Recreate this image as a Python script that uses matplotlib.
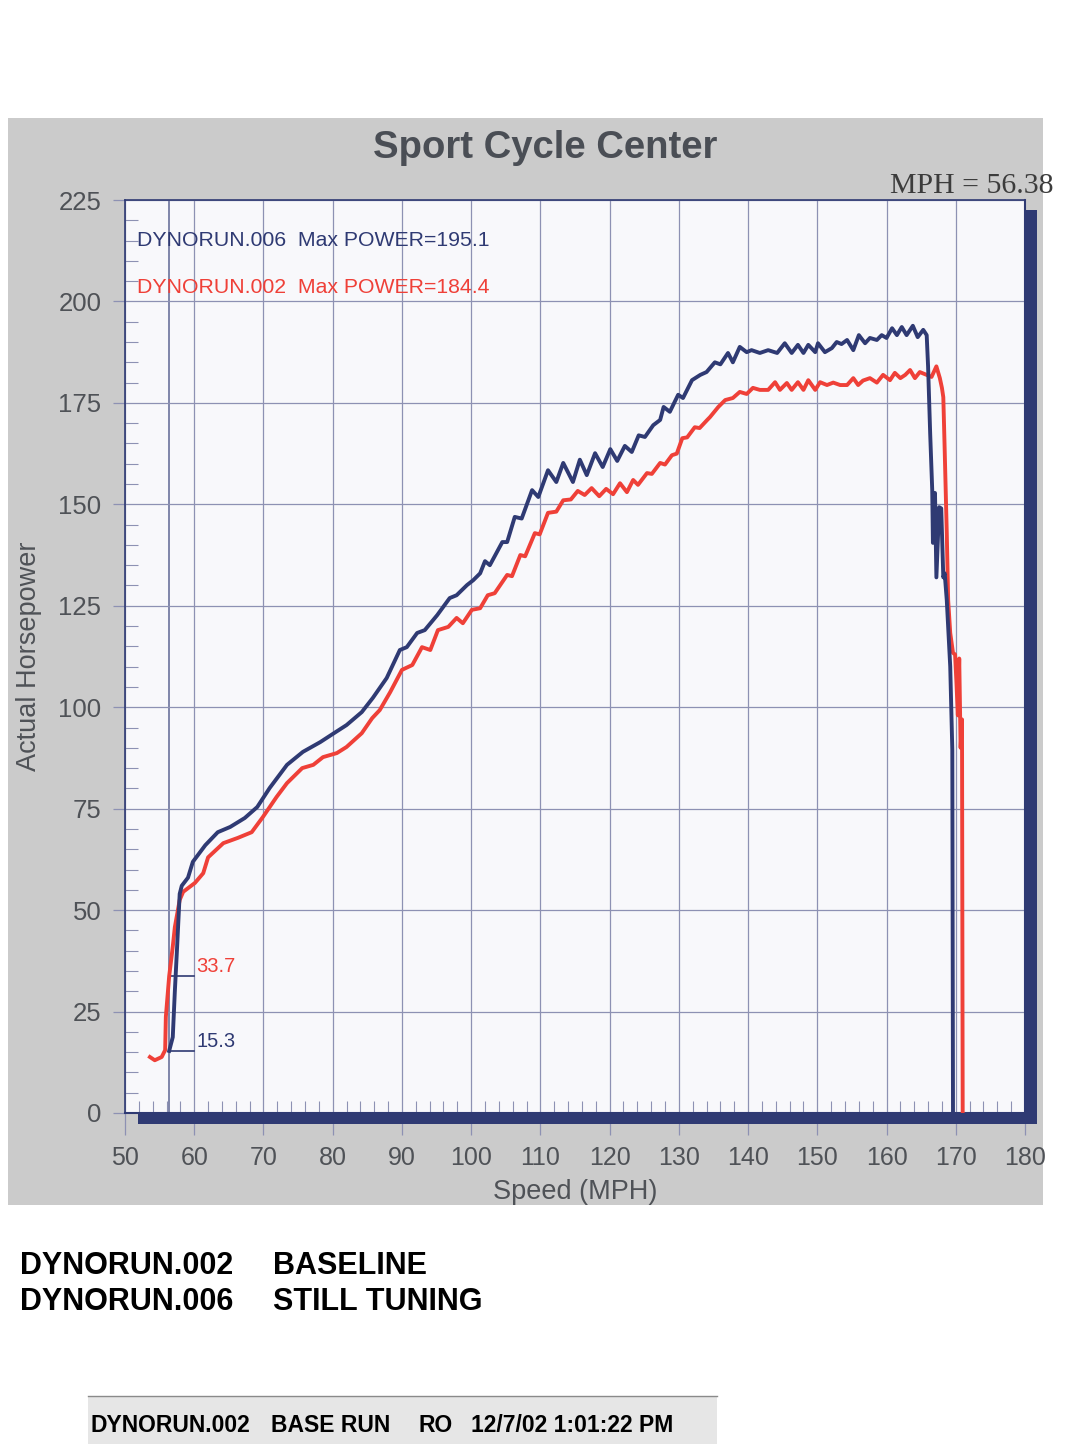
import matplotlib
matplotlib.use("Agg")
import matplotlib.pyplot as plt
from matplotlib.patches import Rectangle
from matplotlib.ticker import MultipleLocator, FixedLocator

# ---------------- data ----------------
run006_mph = [56.38, 56.9, 57.2, 57.5, 57.9, 58.2, 59.1, 59.8, 61.6, 63.4, 65.2, 67.3, 69.1, 70.9,
              73.4, 75.7, 78.2, 80.0, 82.0, 84.2, 85.8, 87.8, 89.7, 90.7, 92.2, 93.3, 95.1, 96.9,
              97.9, 99.4, 100.3, 101.3, 102.0, 102.7, 104.5, 105.2, 106.3, 107.3, 108.8, 109.7,
              111.1, 112.3, 113.3, 114.7, 115.7, 116.7, 117.9, 119.0, 120.1, 121.1, 122.2, 123.2,
              124.2, 125.1, 126.3, 127.3, 127.8, 128.7, 129.9, 130.6, 131.9, 133.1, 134.0, 135.2,
              136.0, 137.1, 137.8, 138.8, 139.8, 140.5, 141.7, 142.9, 144.2, 145.3, 146.3, 147.2,
              148.0, 148.7, 149.7, 150.1, 151.1, 152.1, 152.8, 153.5, 154.3, 155.2, 156.0, 156.9,
              157.6, 158.6, 159.3, 160.0, 160.8, 161.5, 162.2, 162.9, 163.8, 164.5, 165.3, 165.8,
              166.0, 166.3, 166.6, 166.7, 167.0, 167.2, 167.6, 167.9, 168.2, 168.4, 168.7, 169.2,
              169.5, 169.6]
run006_hp = [15.3, 18.7, 30.0, 40.0, 54.0, 56.0, 58.0, 61.9, 66.0, 69.2, 70.5, 72.7, 75.4, 80.1,
             85.8, 89.0, 91.4, 93.4, 95.6, 98.8, 102.3, 107.2, 114.1, 114.8, 118.3, 119.0, 122.7, 126.9,
             127.6, 130.1, 131.3, 133.0, 136.0, 135.0, 140.7, 140.7, 146.9, 146.5, 153.5, 151.8,
             158.4, 155.5, 160.2, 155.5, 161.0, 157.2, 162.6, 159.2, 163.6, 160.7, 164.4, 162.9,
             167.0, 166.6, 169.5, 170.8, 174.0, 172.8, 177.0, 176.2, 180.6, 181.9, 182.6, 185.0,
             184.5, 187.3, 185.0, 188.8, 187.5, 188.0, 187.3, 188.0, 187.3, 189.7, 187.3, 189.3,
             187.3, 189.3, 187.5, 189.7, 187.5, 188.5, 190.0, 189.5, 190.5, 188.0, 191.7, 189.7,
             191.0, 190.5, 191.7, 191.0, 193.4, 191.7, 193.7, 191.7, 194.0, 191.2, 193.0, 191.7,
             184.0, 167.6, 153.5, 140.5, 152.8, 132.0, 149.3, 149.0, 132.0, 133.0, 126.4, 110.0,
             89.5, 0.0]

run002_mph = [53.6, 54.3, 55.3, 55.8, 55.9, 56.38, 56.9, 57.2, 57.9, 58.4, 60.1, 61.3, 62.0, 64.2,
              66.3, 68.3, 69.9, 71.9, 73.4, 75.6, 77.2, 78.6, 80.6, 82.0, 84.2, 85.7, 86.8, 88.3,
              90.0, 91.5, 92.9, 94.1, 95.2, 96.7, 97.9, 98.8, 100.1, 101.3, 102.4, 103.4, 105.2,
              105.9, 107.1, 107.8, 109.2, 109.9, 111.1, 112.3, 113.3, 114.4, 115.4, 116.4, 117.4,
              118.5, 119.5, 120.5, 121.5, 122.5, 123.4, 124.1, 125.4, 126.1, 127.3, 128.0, 129.0,
              129.7, 130.5, 131.2, 132.3, 133.0, 134.1, 134.5, 135.7, 136.7, 137.8, 138.8, 139.8,
              140.7, 141.7, 142.9, 143.9, 144.6, 145.6, 146.3, 147.2, 148.0, 148.7, 149.7, 150.4,
              151.4, 152.3, 153.3, 154.3, 155.2, 155.9, 156.6, 157.6, 158.6, 159.5, 160.5, 161.2,
              162.0, 162.7, 163.4, 164.1, 164.8, 165.8, 166.5, 167.2, 167.7, 168.0, 168.2, 168.4,
              168.7, 168.9, 169.2, 169.6, 169.9, 170.1, 170.3, 170.5, 170.7, 170.9, 171.0]
run002_hp = [13.8, 13.0, 13.8, 15.5, 23.7, 33.7, 41.0, 45.8, 52.5, 54.5, 56.7, 59.1, 63.0, 66.5,
             67.8, 69.2, 72.9, 77.9, 81.3, 85.0, 85.8, 87.7, 88.7, 90.2, 93.6, 97.3, 99.3, 103.7,
             109.2, 110.4, 114.8, 114.1, 119.0, 119.8, 122.0, 120.7, 124.0, 124.4, 127.6, 128.1, 132.6,
             132.3, 137.5, 137.2, 142.9, 142.6, 147.9, 148.2, 151.0, 151.2, 153.3, 152.3, 154.0,
             152.0, 153.8, 152.5, 155.2, 153.0, 156.0, 154.8, 157.7, 157.5, 160.2, 159.8, 162.1,
             162.5, 166.3, 166.5, 169.0, 168.8, 170.8, 171.5, 174.0, 175.7, 176.2, 177.7, 177.2,
             178.7, 178.2, 178.2, 180.1, 178.2, 179.9, 178.2, 180.1, 178.2, 180.6, 178.2, 180.1,
             179.4, 180.0, 179.4, 179.4, 181.1, 179.4, 180.5, 181.1, 180.0, 181.9, 180.6, 182.4,
             181.1, 181.9, 183.1, 181.1, 182.6, 181.9, 181.4, 184.0, 181.1, 178.7, 176.4, 163.4,
             142.9, 126.4, 118.3, 113.4, 113.0, 106.0, 98.0, 112.0, 90.0, 97.0, 0.0]

cursor_mph = 56.38
cursor_red = 33.7
cursor_blue = 15.3
x_ticks = [50, 60, 70, 80, 90, 100, 110, 120, 130, 140, 150, 160, 170, 180]
y_ticks = [0, 25, 50, 75, 100, 125, 150, 175, 200, 225]

NAVY = '#2f3a73'
RED = '#ef4038'
GRID = '#8d91b3'
GRAYTXT = '#4f5257'

plt.rcParams['font.family'] = ['Liberation Sans', 'DejaVu Sans']

W, H = 1085, 1444
fig = plt.figure(figsize=(W / 100, H / 100), dpi=100)
fig.patch.set_facecolor('white')

def px_rect(x0, y0, x1, y1, **kw):
    r = Rectangle((x0 / W, 1 - y1 / H), (x1 - x0) / W, (y1 - y0) / H,
                  transform=fig.transFigure, **kw)
    fig.patches.append(r)
    return r

# gray halftone panel
px_rect(8, 118, 1043, 1205, facecolor='#cbcbcb', edgecolor='none', zorder=-5)

# axes
L, R, T, B = 125, 1025, 200, 1113
ax = fig.add_axes([L / W, 1 - B / H, (R - L) / W, (B - T) / H])
ax.set_facecolor('#f8f8fb')
ax.set_xlim(50, 180)
ax.set_ylim(0, 225)

ax.xaxis.set_major_locator(FixedLocator(x_ticks))
ax.yaxis.set_major_locator(FixedLocator(y_ticks))
ax.xaxis.set_minor_locator(MultipleLocator(2))
ax.yaxis.set_minor_locator(MultipleLocator(5))
ax.grid(True, which='major', color=GRID, linewidth=0.9, zorder=0)

ax.tick_params(axis='y', which='major', direction='out', length=9, width=0.9, color=GRID,
               labelsize=18.5, labelcolor=GRAYTXT, pad=8)
ax.tick_params(axis='x', which='major', direction='out', length=16, width=0.9, color=GRID,
               labelsize=18, labelcolor=GRAYTXT, pad=8)
ax.tick_params(axis='both', which='minor', direction='in', length=9, width=0.8, color=GRID)
ax.set_xticklabels([str(v) for v in x_ticks])
ax.set_yticklabels([str(v) for v in y_ticks])

for s in ['left', 'top']:
    ax.spines[s].set_color(NAVY)
    ax.spines[s].set_linewidth(1.2)
for s in ['right', 'bottom']:
    ax.spines[s].set_color(NAVY)
    ax.spines[s].set_linewidth(1.5)

ax.set_xlabel('Speed (MPH)', fontsize=19.5, color=GRAYTXT, labelpad=6)
ax.set_ylabel('Actual Horsepower', fontsize=19.5, color=GRAYTXT, labelpad=12)

# cursor line
ax.axvline(cursor_mph, color=NAVY, linewidth=1.2, alpha=0.7, zorder=1)
ax.plot([cursor_mph, 60], [cursor_red, cursor_red], color=NAVY, linewidth=1.2, zorder=2)
ax.plot([cursor_mph, 60], [cursor_blue, cursor_blue], color=NAVY, linewidth=1.2, zorder=2)
ax.text(60.3, cursor_red + 2.5, f'{cursor_red}', color=RED, fontsize=14.5, va='center', ha='left')
ax.text(60.3, cursor_blue + 2.4, f'{cursor_blue}', color=NAVY, fontsize=14.5, va='center', ha='left')

# curves
ax.plot(run002_mph, run002_hp, color=RED, linewidth=2.8, solid_joinstyle='round', zorder=3)
ax.plot(run006_mph, run006_hp, color=NAVY, linewidth=2.8, solid_joinstyle='round', zorder=4)

ax.text(51.7, 214.9, 'DYNORUN.006  Max POWER=195.1', color=NAVY, fontsize=15.3, va='center', ha='left')
ax.text(51.7, 203.5, 'DYNORUN.002  Max POWER=184.4', color=RED, fontsize=15.3, va='center', ha='left')

# shadow bars
px_rect(138, 1113, 1037, 1124, facecolor=NAVY, edgecolor='none', zorder=5)
px_rect(1025, 210, 1037, 1124, facecolor=NAVY, edgecolor='none', zorder=5)

# title texts
fig.text(545 / W, 1 - 148 / H, 'Sport Cycle Center', fontsize=27.5, fontweight='bold',
         color='#4a4e55', ha='center', va='center')
fig.text(1053 / W, 1 - 186 / H, 'MPH = 56.38', fontsize=21.5, family='Liberation Serif',
         color='#3c3c3c', ha='right', va='center')

# lower texts
fig.text(20 / W, 1 - 1266 / H, 'DYNORUN.002', fontsize=22, fontweight='bold', color='black', ha='left', va='center')
fig.text(273 / W, 1 - 1266 / H, 'BASELINE', fontsize=22, fontweight='bold', color='black', ha='left', va='center')
fig.text(20 / W, 1 - 1302 / H, 'DYNORUN.006', fontsize=22, fontweight='bold', color='black', ha='left', va='center')
fig.text(273 / W, 1 - 1302 / H, 'STILL TUNING', fontsize=22, fontweight='bold', color='black', ha='left', va='center')

# footer strip
px_rect(88, 1396, 717, 1444, facecolor='#e6e6e6', edgecolor='none', zorder=-4)
fig.lines.append(plt.Line2D([88 / W, 717 / W], [1 - 1396 / H, 1 - 1396 / H],
                            transform=fig.transFigure, color='#8a8a8a', linewidth=1.0))
footer_y = 1 - 1425 / H
fig.text(90 / W, footer_y, 'DYNORUN.002', fontsize=16.5, fontweight='bold', ha='left', va='center')
fig.text(271 / W, footer_y, 'BASE RUN', fontsize=16.5, fontweight='bold', ha='left', va='center')
fig.text(418 / W, footer_y, 'RO', fontsize=16.5, fontweight='bold', ha='left', va='center')
fig.text(471 / W, footer_y, '12/7/02 1:01:22 PM', fontsize=16.5, fontweight='bold', ha='left', va='center')

fig.savefig('out.png', dpi=100)
